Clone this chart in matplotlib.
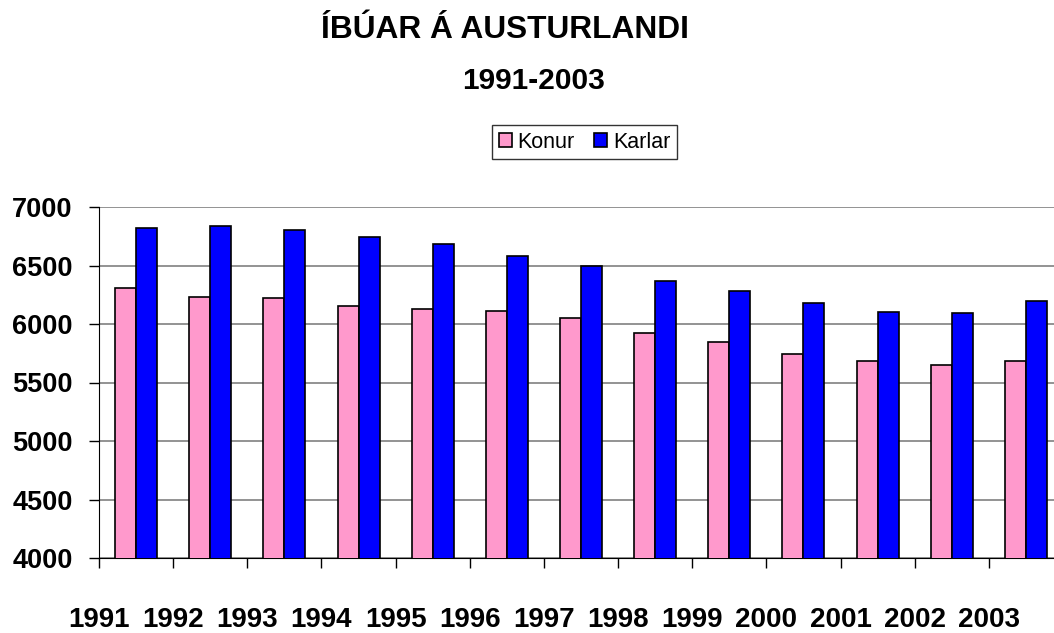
import matplotlib
matplotlib.use('Agg')
import matplotlib.pyplot as plt
import numpy as np

# data
years = ['1991', '1992', '1993', '1994', '1995', '1996', '1997',
         '1998', '1999', '2000', '2001', '2002', '2003']
konur = [6310, 6235, 6218, 6156, 6127, 6110, 6048,
         5925, 5845, 5742, 5682, 5650, 5682]
karlar = [6818, 6834, 6803, 6742, 6685, 6579, 6500,
          6365, 6283, 6180, 6104, 6090, 6195]

plt.rcParams['font.family'] = ['Liberation Sans', 'DejaVu Sans']

fig = plt.figure(figsize=(10.54, 6.33), dpi=100)
ax = fig.add_axes([99 / 1054, 75 / 633, 964 / 1054, 351 / 633])

x = np.arange(len(years))
w = 0.283
ax.bar(x - w / 2, konur, w, color='#FF99CC', edgecolor='black',
       linewidth=1.2, label='Konur', zorder=3)
ax.bar(x + w / 2, karlar, w, color='#0000FF', edgecolor='black',
       linewidth=1.2, label='Karlar', zorder=3)

ax.set_xlim(-0.5, len(years) - 0.5)
ax.set_ylim(4000, 7000)
ax.set_yticks(np.arange(4000, 7001, 500))
ax.yaxis.grid(True, color='#808080', linewidth=1.2, zorder=0)

# year labels sit on the category boundaries, like the original
ax.set_xticks(x - 0.5)
ax.set_xticklabels(years, fontsize=20, fontweight='bold')
ax.tick_params(axis='x', direction='out', length=7, width=1,
               color='black', pad=28)
ax.tick_params(axis='y', direction='out', length=7, width=1,
               color='black', pad=12, labelsize=19.5)
for lab in ax.get_yticklabels():
    lab.set_fontweight('bold')

for s in ['top', 'right']:
    ax.spines[s].set_visible(False)
ax.spines['left'].set_color('black')
ax.spines['bottom'].set_color('black')

fig.text(0.479, 0.952, 'ÍBÚAR Á AUSTURLANDI', ha='center', va='center',
         fontsize=22.8, fontweight='bold')
fig.text(0.506, 0.872, '1991-2003', ha='center', va='center',
         fontsize=21.5, fontweight='bold')

leg = fig.legend(loc='center right', bbox_to_anchor=(677 / 1054, 1 - 142 / 633),
                 ncol=2, fontsize=15.5, frameon=True, fancybox=False,
                 edgecolor='black', handlelength=0.6, handleheight=0.6,
                 handletextpad=0.28, columnspacing=0.9, borderpad=0.3,
                 borderaxespad=0)
leg.get_frame().set_linewidth(1)

fig.savefig('out.png', dpi=100)
